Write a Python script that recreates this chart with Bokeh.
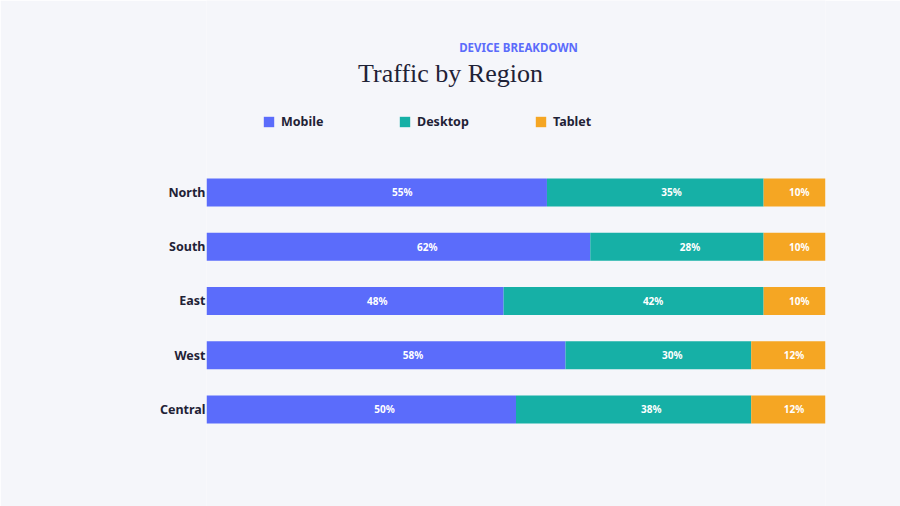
import numpy as np
from bokeh.plotting import figure
from bokeh.embed import file_html
from bokeh.resources import INLINE
from bokeh.models import Range1d, Label, Legend, LegendItem, ColumnDataSource, FixedTicker
from bokeh.core.properties import value

regions = ["North", "South", "East", "West", "Central"]
devices = ["Mobile", "Desktop", "Tablet"]
mobile = [55, 62, 48, 58, 50]
desktop = [35, 28, 42, 30, 38]
tablet = [10, 10, 10, 12, 12]
colors = ["#5b6cfb", "#16b0a6", "#f5a623"]

BG = "#f5f6fa"
DARK = "#1f2236"

pos = list(range(len(regions)))  # North at top

# frame spans full height so titles/legend (drawn inside the frame) are not clipped
p = figure(width=900, height=506, x_range=Range1d(0, 100),
           y_range=Range1d(5.788, -3.539), output_backend="svg", toolbar_location=None,
           x_axis_location=None, min_border_left=206, min_border_right=75,
           min_border_top=0, min_border_bottom=0)
p.background_fill_color = BG
p.border_fill_color = BG
p.outline_line_color = None
p.grid.visible = False

src = ColumnDataSource(dict(pos=pos, Mobile=mobile, Desktop=desktop, Tablet=tablet))
renderers = p.hbar_stack(devices, y="pos", height=0.516, color=colors,
                         line_color=None, source=src)

# percentage labels, sitting a little right of each segment's middle
left = np.zeros(len(regions))
for vals in [mobile, desktop, tablet]:
    v = np.array(vals, dtype=float)
    p.text(x=left + v * 0.575, y=pos, text=[f"{int(x)}%" for x in v],
           text_color="white", text_font=value("Noto Sans"), text_font_style="bold",
           text_font_size="10px", text_align="center", text_baseline="middle")
    left = left + v

# y axis with region names
p.yaxis.ticker = FixedTicker(ticks=pos)
p.yaxis.major_label_overrides = {i: r for i, r in zip(pos, regions)}
p.yaxis.axis_line_color = None
p.yaxis.major_tick_line_color = None
p.yaxis.minor_tick_line_color = None
p.yaxis.major_tick_out = 0
p.yaxis.major_tick_in = 0
p.yaxis.major_label_standoff = 1
p.yaxis.major_label_text_font = "Noto Sans"
p.yaxis.major_label_text_font_style = "bold"
p.yaxis.major_label_text_font_size = "12.5px"
p.yaxis.major_label_text_color = DARK

# titles (screen units relative to plot frame)
p.add_layout(Label(x=312, y=459, x_units="screen", y_units="screen",
                   text="DEVICE BREAKDOWN", text_align="center", text_baseline="middle",
                   text_font="Noto Sans", text_font_style="bold", text_font_size="11.5px",
                   text_color="#5b6cfb"))
p.add_layout(Label(x=244, y=433, x_units="screen", y_units="screen",
                   text="Traffic by Region", text_align="center", text_baseline="middle",
                   text_font="Liberation Serif", text_font_size="26px",
                   text_color=DARK))

legend = Legend(items=[LegendItem(label=d, renderers=[r]) for d, r in zip(devices, renderers)],
                location=(56, 376), orientation="horizontal", glyph_width=13, glyph_height=13,
                label_standoff=6, label_width=117, label_height=13, spacing=0, padding=0,
                margin=0, border_line_color=None, background_fill_alpha=0,
                label_text_font="Noto Sans", label_text_font_style="bold",
                label_text_font_size="12.5px", label_text_color=DARK)
p.add_layout(legend)

open("out.html", "w").write(file_html(p, INLINE))
